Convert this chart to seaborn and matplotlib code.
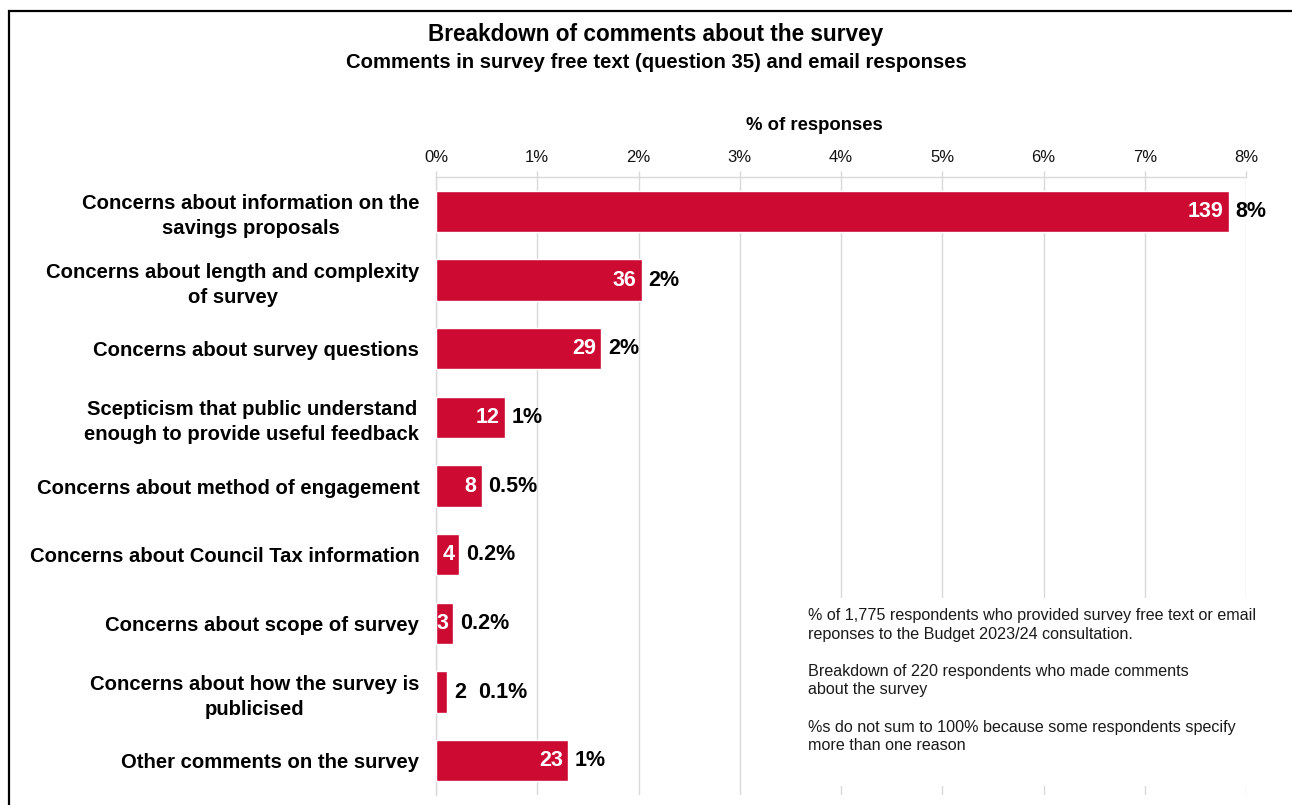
import matplotlib
matplotlib.use("Agg")
import matplotlib.pyplot as plt
import seaborn as sns
import pandas as pd
from matplotlib.patches import Rectangle

categories = [
    "Concerns about information on the\nsavings proposals",
    "Concerns about length and complexity\nof survey",
    "Concerns about survey questions",
    "Scepticism that public understand\nenough to provide useful feedback",
    "Concerns about method of engagement",
    "Concerns about Council Tax information",
    "Concerns about scope of survey",
    "Concerns about how the survey is\npublicised",
    "Other comments on the survey",
]
counts = [139, 36, 29, 12, 8, 4, 3, 2, 23]
pct_values = [7.83, 2.03, 1.63, 0.68, 0.45, 0.23, 0.17, 0.11, 1.30]
pct_labels = ["8%", "2%", "2%", "1%", "0.5%", "0.2%", "0.2%", "0.1%", "1%"]
x_ticks = [0, 1, 2, 3, 4, 5, 6, 7, 8]
x_tick_labels = ["0%", "1%", "2%", "3%", "4%", "5%", "6%", "7%", "8%"]

df = pd.DataFrame({"category": categories, "pct": pct_values})

sns.set_theme(style="white")
plt.rcParams["font.family"] = ["Liberation Sans", "DejaVu Sans"]
plt.rcParams["text.color"] = "black"

BAR = "#CC0A32"
GRID = "#D9D9D9"

fig = plt.figure(figsize=(12.92, 8.05), dpi=100)
W, H = 1292, 805
ax = fig.add_axes([436 / W, 1 - 795 / H, (1246 - 436) / W, (795 - 177) / H])

sns.barplot(data=df, x="pct", y="category", orient="h", color=BAR,
            saturation=1, width=0.6, ax=ax, zorder=3)

ax.set_xlim(0, 8)
ax.set_ylim(len(categories) - 0.5, -0.5)
ax.xaxis.tick_top()
ax.set_xticks(x_ticks)
ax.set_xticklabels(x_tick_labels, fontsize=12, color="#111111")
ax.tick_params(axis="x", which="major", direction="out", length=4,
               color=GRID, width=1, pad=5, top=True, bottom=False)
ax.grid(axis="x", color=GRID, linewidth=1, zorder=0)
ax.set_axisbelow(True)

ax.set_yticks(range(len(categories)))
ax.set_yticklabels(categories, fontsize=14.6, fontweight="bold",
                   color="black", multialignment="center")
for lbl in ax.get_yticklabels():
    lbl.set_linespacing(1.4)
ax.tick_params(axis="y", which="major", length=0, pad=12)
ax.set_yticks([i + 0.5 for i in range(-1, len(categories))], minor=True)
ax.tick_params(axis="y", which="minor", length=5, color=GRID, width=1,
               direction="out")
ax.set_xlabel("")
ax.set_ylabel("")

for s in ["right", "bottom"]:
    ax.spines[s].set_visible(False)
for s in ["top", "left"]:
    ax.spines[s].set_color(GRID)
    ax.spines[s].set_linewidth(1)

# value labels
px = 8 / (1246 - 436)  # data units per pixel
for i, (c, v, lab) in enumerate(zip(counts, pct_values, pct_labels)):
    if v >= 0.15:
        ax.text(v - 5 * px, i, str(c), ha="right", va="center", color="white",
                fontsize=15.5, fontweight="bold", zorder=5)
        ax.text(v + 7 * px, i, lab, ha="left", va="center", color="black",
                fontsize=15.5, fontweight="bold", zorder=5)
    else:
        ax.text(v + 7 * px, i, str(c), ha="left", va="center", color="black",
                fontsize=15.5, fontweight="bold", zorder=5)
        ax.text(v + 31 * px, i, lab, ha="left", va="center", color="black",
                fontsize=15.5, fontweight="bold", zorder=5)

# titles
fig.text(656 / W, 1 - 34 / H, "Breakdown of comments about the survey",
         ha="center", va="center", fontsize=16.3, fontweight="bold")
fig.text(656 / W, 1 - 62.5 / H,
         "Comments in survey free text (question 35) and email responses",
         ha="center", va="center", fontsize=14.6, fontweight="bold")
fig.text(814 / W, 1 - 125.5 / H, "% of responses", ha="center", va="center",
         fontsize=13.3, fontweight="bold")

# note box
fig.add_artist(Rectangle((800 / W, 1 - 786 / H), 470 / W, 188 / H,
                         transform=fig.transFigure, facecolor="white",
                         edgecolor="none", zorder=4))
note = ("% of 1,775 respondents who provided survey free text or email\n"
        "reponses to the Budget 2023/24 consultation.\n\n"
        "Breakdown of 220 respondents who made comments\n"
        "about the survey\n\n"
        "%s do not sum to 100% because some respondents specify\n"
        "more than one reason")
fig.text(808 / W, 1 - 608 / H, note, ha="left", va="top", fontsize=11.6,
         color="#1a1a1a", linespacing=1.3, zorder=5)

# outer frame
fig.add_artist(Rectangle((8.5 / W, -0.05), 1.2, 1 - 11.5 / H + 0.05,
                         transform=fig.transFigure, facecolor="none",
                         edgecolor="black", linewidth=1.6, zorder=6))

fig.savefig("out.png", dpi=100)
